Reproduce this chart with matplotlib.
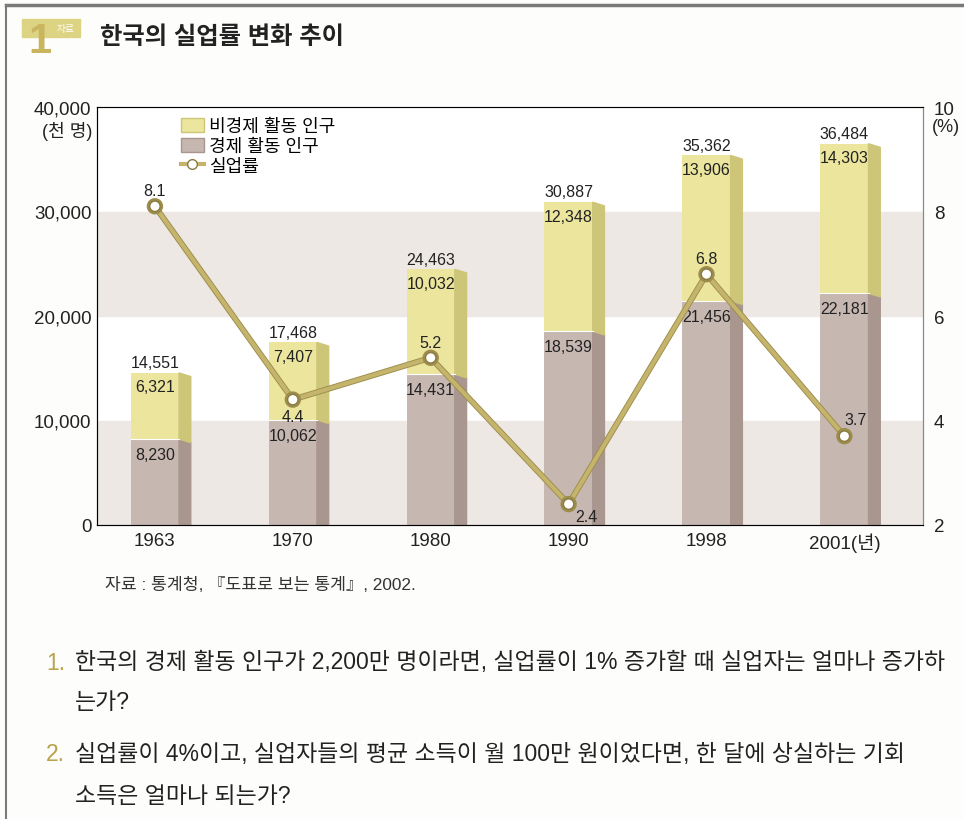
import matplotlib.pyplot as plt
from matplotlib.patches import Patch, Polygon, Rectangle
from matplotlib.lines import Line2D
import matplotlib.patheffects as pe

plt.rcParams['font.family'] = ['Liberation Sans', 'Noto Sans CJK KR']

years = ['1963', '1970', '1980', '1990', '1998', '2001(년)']
econ = [8230, 10062, 14431, 18539, 21456, 22181]        # 경제 활동 인구 (천 명)
nonecon = [6321, 7407, 10032, 12348, 13906, 14303]      # 비경제 활동 인구
totals = [14551, 17468, 24463, 30887, 35362, 36484]
rate = [8.1, 4.4, 5.2, 2.4, 6.8, 3.7]                   # 실업률 (%)

W, H = 964, 820
fig = plt.figure(figsize=(W / 100, H / 100), dpi=100, facecolor='#fdfdfb')

def px(x, y):
    return x / W, 1 - y / H

# ================= frame / title ================= #
fig.add_artist(Line2D([6 / W, 1], [1 - 6 / H] * 2, color='#7a7a7a', lw=2.5, transform=fig.transFigure))
fig.add_artist(Line2D([6 / W] * 2, [0, 1 - 6 / H], color='#7a7a7a', lw=1.5, transform=fig.transFigure))
fig.add_artist(Rectangle(px(22, 38), 58 / W, 18 / H, color='#dcd383', transform=fig.transFigure))
fig.text(*px(40, 42), '1', fontsize=30, fontweight='bold', color='#c9b55e', ha='center', va='center')
fig.text(*px(66, 29), '자료', fontsize=7, color='white', ha='center', va='center')
fig.text(*px(100, 37), '한국의 실업률 변화 추이', fontsize=17.5, fontweight='bold', color='#222', va='center')

# ================= chart ================= #
ax = fig.add_axes([97 / W, 1 - 526 / H, (923 - 97) / W, (526 - 108) / H])
ax.set_xlim(-0.42, 5.57)
ax.set_ylim(0, 40000)
ax.axhspan(0, 10000, color='#ede8e3', zorder=0)
ax.axhspan(20000, 30000, color='#ede8e3', zorder=0)

bw, d, s = 0.35, 0.085, 350
yel, yel_side = '#ebe59d', '#cdc577'
mau, mau_side = '#c7b7b1', '#a8968f'
for i in range(len(years)):
    b, t = econ[i], econ[i] + nonecon[i]
    ax.bar(i, b, width=bw, color=mau, zorder=2)
    ax.bar(i, nonecon[i], bottom=b, width=bw, color=yel, zorder=2)
    xr = i + bw / 2
    ax.add_patch(Polygon([(xr, 0), (xr + d, 0), (xr + d, b - s), (xr, b)], closed=True, color=mau_side, zorder=2))
    ax.add_patch(Polygon([(xr, b), (xr + d, b - s), (xr + d, t - s), (xr, t)], closed=True, color=yel_side, zorder=2))
    ax.plot([i - bw / 2, xr], [b, b], color='white', lw=0.8, zorder=3)
    ax.annotate(f'{totals[i]:,}', (i, t), xytext=(0, 2), textcoords='offset points',
                ha='center', va='bottom', fontsize=11.5, color='#222', zorder=4)
    ax.annotate(f'{nonecon[i]:,}', (i, t), xytext=(0, -10), textcoords='offset points',
                ha='center', va='center', fontsize=11.5, color='#222', zorder=4)
    ax.annotate(f'{econ[i]:,}', (i, b), xytext=(0, -11), textcoords='offset points',
                ha='center', va='center', fontsize=11.5, color='#222', zorder=4)

ax.set_xticks(range(len(years)), years)
ax.set_yticks([0, 10000, 20000, 30000, 40000])
ax.set_yticklabels([f'{v:,}' for v in [0, 10000, 20000, 30000, 40000]])
ax.tick_params(axis='both', length=0, labelsize=13.5, colors='#222')
ax.tick_params(axis='y', pad=4)
ax.tick_params(axis='x', pad=5)
for side, c in [('left', '#333'), ('bottom', '#555'), ('top', '#999'), ('right', '#888')]:
    ax.spines[side].set_color(c)
fig.text(*px(92, 131), '(천 명)', fontsize=13, ha='right', va='center', color='#222')

# ======= unemployment rate ======= #
ax2 = ax.twinx()
ax2.set_ylim(2, 10)
ax2.set_yticks([2, 4, 6, 8, 10])
ax2.tick_params(axis='y', length=0, labelsize=13.5, colors='#222', pad=8)
ax2.spines['right'].set_color('#888')
line_c = '#c4b46c'
ax2.plot(range(len(rate)), rate, color=line_c, lw=3, marker='o', ms=7.5,
         mfc='white', mec='#8a7b42', mew=1, zorder=5,
         path_effects=[pe.Stroke(linewidth=4.3, foreground='#9d8d4c'), pe.Normal()])
offs = [(0, 11), (0, -12), (0, 11), (13, -9), (0, 11), (8, 12)]
for i, v in enumerate(rate):
    ax2.annotate(f'{v}', (i, v), xytext=offs[i], textcoords='offset points',
                 ha='center', va='center', fontsize=11.5, color='#222', zorder=6)
fig.text(*px(932, 127), '(%)', fontsize=13, ha='left', va='center', color='#222')

handles = [Patch(facecolor=yel, edgecolor=yel_side),
           Patch(facecolor=mau, edgecolor=mau_side),
           Line2D([], [], color=line_c, lw=3, marker='o', ms=7, mfc='white', mec='#8a7b42')]
ax2.legend(handles, ['비경제 활동 인구', '경제 활동 인구', '실업률'], loc='upper left',
           bbox_to_anchor=(0.088, 1.0), frameon=False, fontsize=13, handlelength=1.3,
           handleheight=0.8, handletextpad=0.3, labelspacing=0.15, borderaxespad=0.2)

# ================= source / questions ================= #
fig.text(*px(105, 585), '자료 : 통계청, 『도표로 보는 통계』, 2002.', fontsize=12.4, va='center', color='#333')
gold = '#b9a24c'
q_fs = 16.5
fig.text(*px(46, 663), '1.', fontsize=q_fs, va='center', color=gold)
fig.text(*px(75, 663), '한국의 경제 활동 인구가 2,200만 명이라면, 실업률이 1% 증가할 때 실업자는 얼마나 증가하',
         fontsize=q_fs, va='center', color='#222')
fig.text(*px(75, 703), '는가?', fontsize=q_fs, va='center', color='#222')
fig.text(*px(46, 755), '2.', fontsize=q_fs, va='center', color=gold)
fig.text(*px(75, 755), '실업률이 4%이고, 실업자들의 평균 소득이 월 100만 원이었다면, 한 달에 상실하는 기회',
         fontsize=q_fs, va='center', color='#222')
fig.text(*px(75, 797), '소득은 얼마나 되는가?', fontsize=q_fs, va='center', color='#222')

fig.savefig('out.png', dpi=100, facecolor=fig.get_facecolor())
